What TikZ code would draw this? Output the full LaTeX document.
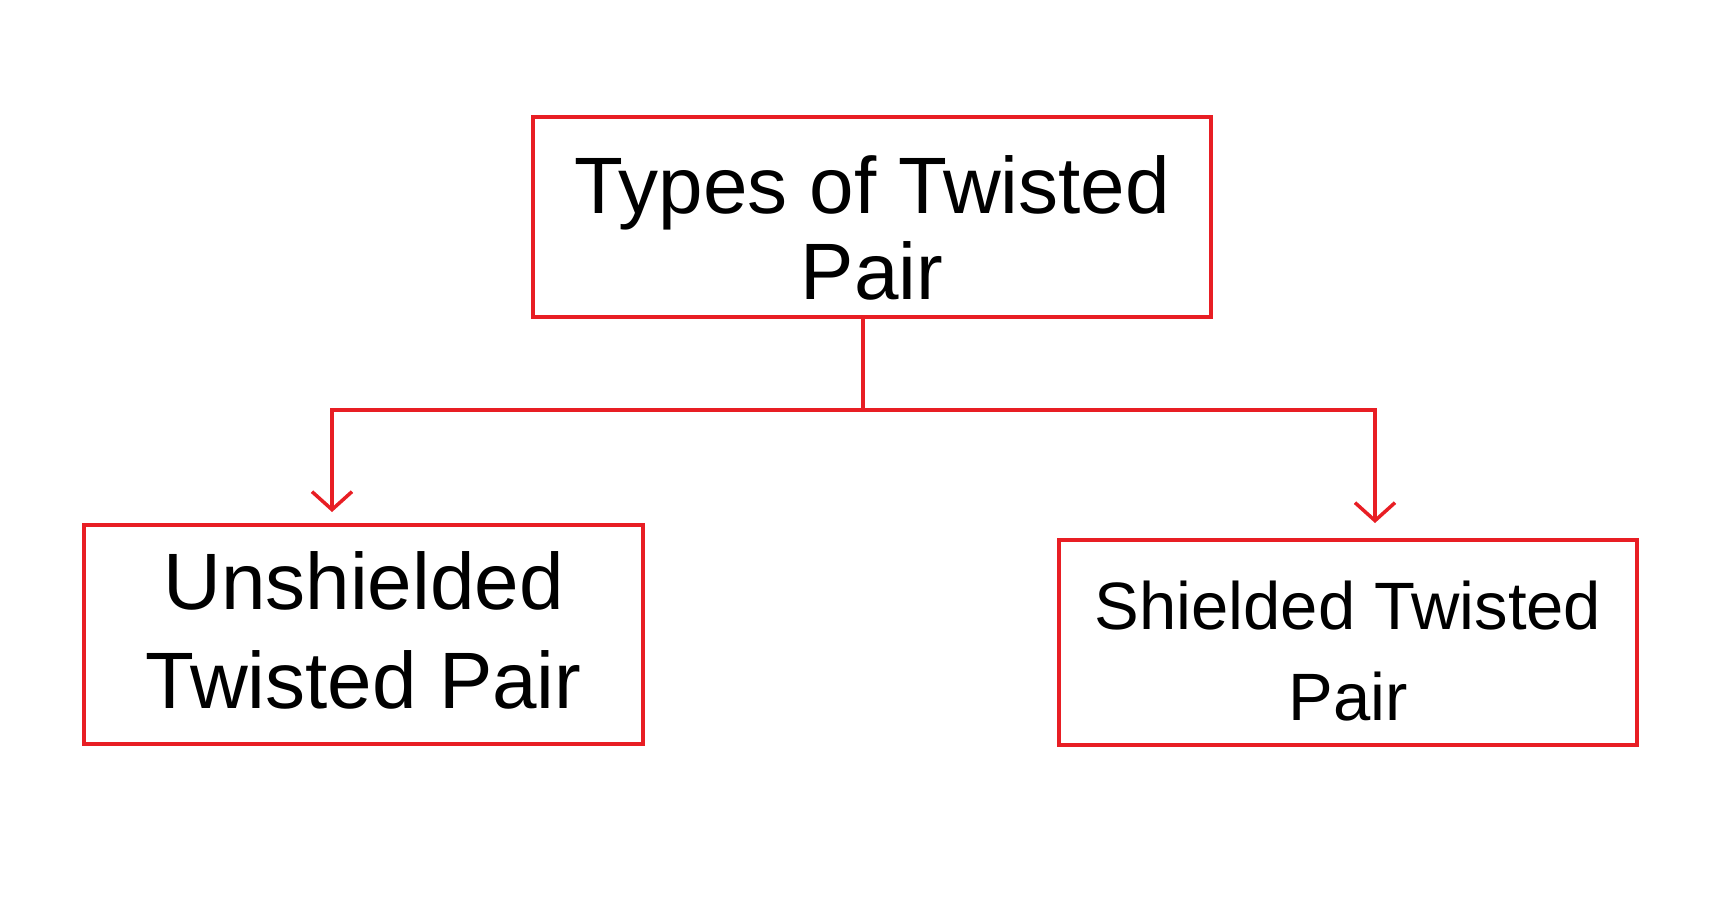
\documentclass[tikz,border=0pt]{standalone}
\usepackage{fontspec}
\setmainfont{Liberation Sans}
\usetikzlibrary{arrows.meta}
\definecolor{boxred}{RGB}{232,30,36}
\begin{document}
\begin{tikzpicture}[x=1pt,y=-1pt,
  box/.style={draw=boxred, line width=3.5pt, inner sep=0pt},
  txt/.style={align=center, text=black, inner sep=0pt},
  conn/.style={draw=boxred, line width=3.5pt},
  arr/.style={conn, -{Straight Barb[length=18pt,width=40pt,line width=3.5pt]}}]
\useasboundingbox (0,0) rectangle (1716,917);
\node[box, minimum width=678pt, minimum height=200pt,
  label={[txt, yshift=-11pt, font=\fontsize{80}{86}\selectfont]center:{Types of Twisted\\Pair}}] (top) at (872,217) {};
\node[box, minimum width=559pt, minimum height=219pt,
  label={[txt, yshift=4pt, font=\fontsize{80}{99}\selectfont]center:{Unshielded\\Twisted Pair}}] (utp) at (363.5,634.5) {};
\node[box, minimum width=578pt, minimum height=205pt,
  label={[txt, yshift=-9pt, font=\fontsize{67}{91}\selectfont]center:{Shielded Twisted\\Pair}}] (stp) at (1348,642.5) {};
\coordinate (j) at (863,410);
\coordinate (la) at (332,512);
\coordinate (ra) at (1375,523);
\draw[conn] (top.south -| j) -- (j);
\draw[arr] (j) -| (la);
\draw[arr] (j) -| (ra);
\end{tikzpicture}
\end{document}
